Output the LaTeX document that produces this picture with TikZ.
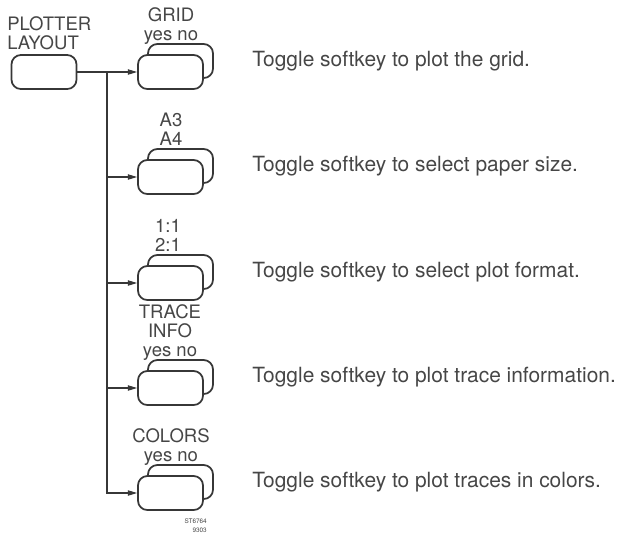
\documentclass[tikz,border=0pt]{standalone}
\usepackage{fontspec}
\setmainfont{TeX Gyre Heros}
\usetikzlibrary{arrows.meta}

\definecolor{linegray}{RGB}{55,55,55}
\definecolor{textgray}{RGB}{70,70,70}

\tikzset{
  key/.style={draw=linegray, line width=1.3pt, rounded corners=7pt, fill=white,
    minimum width=48.75pt, minimum height=25.5pt, inner sep=0pt},
  keylabel/.style={anchor=south, align=center, inner sep=0pt, text=textgray,
    font=\fontsize{13.9pt}{14.25pt}\selectfont},
  note/.style={anchor=base west, inner sep=0pt, text=textgray,
    font=\fontsize{15.7pt}{18pt}\selectfont},
  conn/.style={draw=linegray, line width=0.8pt},
  tip/.style={-{Triangle[length=7pt,width=4pt]}},
}

\begin{document}
\begin{tikzpicture}[x=0.75pt,y=0.75pt,yscale=-1,xscale=1]
\useasboundingbox (0,0) rectangle (621,537);

%Shape: PLOTTER LAYOUT key
\node[key] (plot) at (44,72) {};
% Text Node
\node[keylabel, anchor=south west, align=left] (plotLbl) at (7,55.3) {PLOTTER\\LAYOUT\strut};

%Shape: GRID keys
\node[key] (gridB) at (180.5,61) {};
\node[key] (grid) at (170.5,72) {};
%Shape: paper size keys
\node[key] (paperB) at (180.5,166) {};
\node[key] (paper) at (170.5,177) {};
%Shape: plot format keys
\node[key] (fmtB) at (180.5,272) {};
\node[key] (fmt) at (170.5,283) {};
%Shape: trace info keys
\node[key] (traceB) at (180.5,377) {};
\node[key] (trace) at (170.5,388) {};
%Shape: colors keys
\node[key] (colorsB) at (180.5,482) {};
\node[key] (colors) at (170.5,493) {};

%Straight Lines
\coordinate (trunk) at (107,72);
\draw[conn, tip] (plot) -- (grid);
\draw[conn, tip] (trunk) |- (paper);
\draw[conn, tip] (trunk) |- (fmt);
\draw[conn, tip] (trunk) |- (trace);
\draw[conn, tip] (trunk) |- (colors);

% Text Node
\node[keylabel] (gridLbl) at (171,46) {GRID\\yes no\strut};
% Text Node
\node[keylabel] (paperLbl) at (171,151) {A3\\A4\strut};
% Text Node
\node[keylabel] (fmtLbl) at (168,257) {1:1\\2:1\strut};
% Text Node
\node[keylabel] (traceLbl) at (170,362) {TRACE\\INFO\\yes no\strut};
% Text Node
\node[keylabel] (colorsLbl) at (171,467) {COLORS\\yes no\strut};

% Text Node
\node[note] (gridNote) at (252,66) {Toggle softkey to plot the grid.};
% Text Node
\node[note] (paperNote) at (252,171) {Toggle softkey to select paper size.};
% Text Node
\node[note] (fmtNote) at (252,277) {Toggle softkey to select plot format.};
% Text Node
\node[note] (traceNote) at (252,382) {Toggle softkey to plot trace information.};
% Text Node
\node[note] (colorsNote) at (252,487) {Toggle softkey to plot traces in colors.};

% Text Node
\node[anchor=north east, align=right, inner sep=0pt, text=textgray,
  font=\fontsize{4.8pt}{6.75pt}\selectfont] (figId) at (207,518) {ST6764\\9303};

\end{tikzpicture}
\end{document}
